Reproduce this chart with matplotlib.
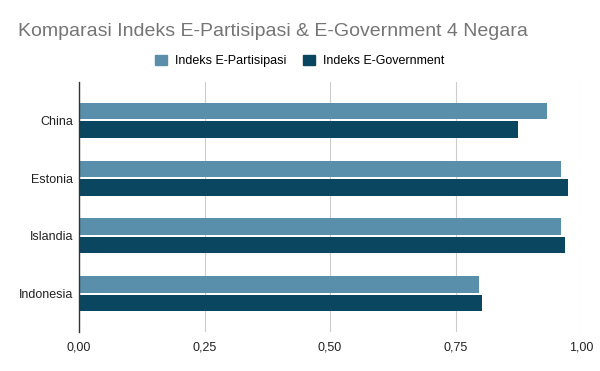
import matplotlib
matplotlib.use("Agg")
import matplotlib.pyplot as plt
from matplotlib.patches import Patch
from matplotlib.ticker import FuncFormatter
import numpy as np

negara = ["China", "Estonia", "Islandia", "Indonesia"]
partisipasi = [0.933, 0.961, 0.961, 0.796]
egov = [0.874, 0.975, 0.969, 0.802]
series_names = ["Indeks E-Partisipasi", "Indeks E-Government"]

warna_part = "#5A8FAB"
warna_egov = "#0B4661"

fig = plt.figure(figsize=(6, 3.71), dpi=100)
ax = fig.add_axes([79 / 600, 39 / 371, 502 / 600, 250 / 371])

y = np.arange(len(negara))
h = 0.285
ax.barh(y - h / 2 - 0.018, partisipasi, height=h, color=warna_part, zorder=3)
ax.barh(y + h / 2 + 0.018, egov, height=h, color=warna_egov, zorder=3)

ax.set_xlim(0, 1.0)
ax.set_ylim(3.665, -0.665)
ax.set_yticks(y)
ax.set_yticklabels(negara, fontfamily="Liberation Sans", fontsize=9, color="#222222")
ax.set_xticks([0, 0.25, 0.5, 0.75, 1.0])
ax.xaxis.set_major_formatter(FuncFormatter(lambda v, p: f"{v:.2f}".replace(".", ",")))
for lbl in ax.get_xticklabels():
    lbl.set_fontfamily("Liberation Sans")
    lbl.set_fontsize(9)
    lbl.set_color("#222222")
ax.tick_params(length=0, pad=4)
ax.tick_params(axis="x", pad=7)
ax.grid(axis="x", color="#cccccc", linewidth=0.8, zorder=0)
for s in ["top", "right", "bottom"]:
    ax.spines[s].set_visible(False)
ax.spines["left"].set_color("#333333")
ax.spines["left"].set_linewidth(1)
ax.spines["left"].set_zorder(4)

fig.text(18 / 600, 1 - 31 / 371, "Komparasi Indeks E-Partisipasi & E-Government 4 Negara",
         fontfamily="Liberation Sans", fontsize=14, color="#757575", va="center", ha="left")

handles = [Patch(color=warna_part), Patch(color=warna_egov)]
fig.legend(handles, series_names, loc="center", bbox_to_anchor=(0.5, 1 - 61 / 371),
           ncol=2, frameon=False, handlelength=0.95, handleheight=0.95, handletextpad=0.65,
           columnspacing=1.35, prop={"family": "Liberation Sans", "size": 9})

fig.savefig("out.png", dpi=100)
